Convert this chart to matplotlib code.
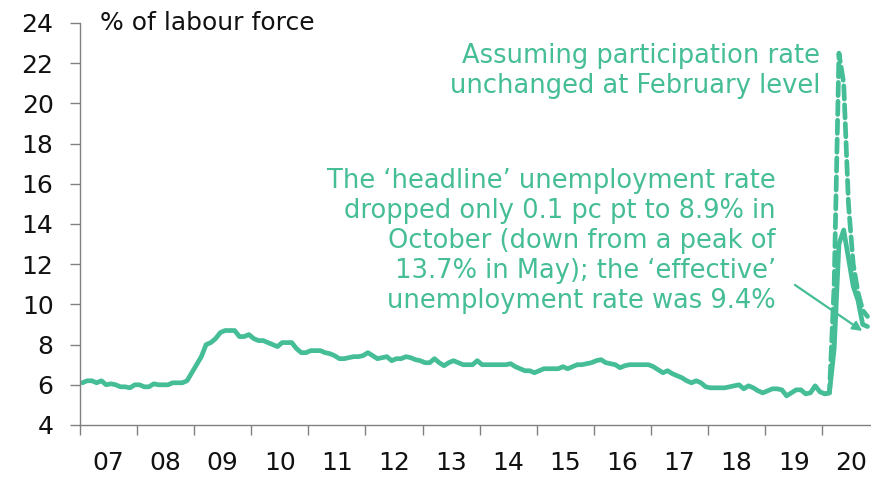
import numpy as np
import matplotlib.pyplot as plt

GREEN = '#45bd97'
GREY = '#808080'

# Headline unemployment rate, monthly, Jan 2007 - Oct 2020 (% of labour force)
rate_2007 = [6.1, 6.2, 6.2, 6.1, 6.2, 6.0, 6.05, 6.0, 5.9, 5.9, 5.85, 6.0]
rate_2008 = [6.0, 5.9, 5.9, 6.05, 6.0, 6.0, 6.0, 6.1, 6.1, 6.1, 6.2, 6.6]
rate_2009 = [7.0, 7.4, 8.0, 8.1, 8.3, 8.6, 8.7, 8.7, 8.7, 8.4, 8.4, 8.5]
rate_2010 = [8.3, 8.2, 8.2, 8.1, 8.0, 7.9, 8.1, 8.1, 8.1, 7.8, 7.6, 7.6]
rate_2011 = [7.7, 7.7, 7.7, 7.6, 7.55, 7.45, 7.3, 7.3, 7.35, 7.4, 7.4, 7.45]
rate_2012 = [7.6, 7.45, 7.3, 7.35, 7.4, 7.2, 7.3, 7.3, 7.4, 7.35, 7.25, 7.2]
rate_2013 = [7.1, 7.1, 7.3, 7.1, 6.95, 7.1, 7.2, 7.1, 7.0, 7.0, 7.0, 7.2]
rate_2014 = [7.0, 7.0, 7.0, 7.0, 7.0, 7.0, 7.05, 6.9, 6.8, 6.7, 6.7, 6.6]
rate_2015 = [6.7, 6.8, 6.8, 6.8, 6.8, 6.9, 6.8, 6.9, 7.0, 7.0, 7.05, 7.1]
rate_2016 = [7.2, 7.25, 7.1, 7.05, 7.0, 6.85, 6.95, 7.0, 7.0, 7.0, 7.0, 7.0]
rate_2017 = [6.9, 6.75, 6.6, 6.7, 6.55, 6.45, 6.35, 6.2, 6.1, 6.2, 6.1, 5.9]
rate_2018 = [5.85, 5.85, 5.85, 5.85, 5.9, 5.95, 6.0, 5.8, 5.95, 5.85, 5.7, 5.6]
rate_2019 = [5.7, 5.8, 5.8, 5.75, 5.45, 5.6, 5.75, 5.75, 5.55, 5.6, 5.95, 5.65]
rate_2020 = [5.55, 5.6, 7.8, 13.0, 13.7, 12.3, 10.9, 10.2, 9.0, 8.9]

# 'Effective' rate with participation held at its February 2020 level
effective_2020 = [5.55, 5.6, 11.0, 22.5, 21.0, 15.0, 12.0, 10.6, 9.7, 9.4]

years = list(range(2007, 2021))
year_labels = ['07', '08', '09', '10', '11', '12', '13', '14', '15', '16',
               '17', '18', '19', '20']
y_ticks = list(range(4, 25, 2))

headline = np.array(rate_2007 + rate_2008 + rate_2009 + rate_2010 + rate_2011
                    + rate_2012 + rate_2013 + rate_2014 + rate_2015 + rate_2016
                    + rate_2017 + rate_2018 + rate_2019 + rate_2020)
months = 2007 + (np.arange(len(headline)) + 0.5) / 12
months_2020 = 2020 + (np.arange(len(effective_2020)) + 0.5) / 12

fig = plt.figure(figsize=(8.71, 4.78), dpi=100)
ax = fig.add_axes([80 / 871, 53 / 478, 791 / 871, 402 / 478])

ax.plot(months_2020, effective_2020, color=GREEN, lw=3.4, ls=(0, (2.8, 1.2)),
        solid_capstyle='round', dash_capstyle='round', clip_on=False)
ax.plot(months, headline, color=GREEN, lw=3.4, solid_joinstyle='round',
        solid_capstyle='round', clip_on=False)

ax.set_xlim(2007, 2020.853)
ax.set_ylim(4, 24)

for side in ['top', 'right']:
    ax.spines[side].set_visible(False)
for side in ['left', 'bottom']:
    ax.spines[side].set_color(GREY)
    ax.spines[side].set_linewidth(1.0)

ax.set_xticks(years)
ax.set_xticklabels([])
ax.set_xticks([y + 0.5 for y in years], minor=True)
ax.set_xticklabels(year_labels, minor=True)
ax.tick_params(axis='x', which='major', length=7, width=1, color=GREY)
ax.tick_params(axis='x', which='minor', length=0, pad=19, labelsize=18,
               labelcolor='#111111')

ax.set_yticks(y_ticks)
ax.tick_params(axis='y', length=7, width=1, color=GREY, pad=12,
               labelsize=18, labelcolor='#111111')

ax.text(0.0253, 1.0, '% of labour force', transform=ax.transAxes,
        ha='left', va='center', fontsize=18, color='#111111')

ax.text(2019.96, 21.6, 'Assuming participation rate\nunchanged at February level',
        ha='right', va='center', fontsize=18.5, color=GREEN, linespacing=1.2)

ax.text(2019.19, 13.15,
        'The \u2018headline\u2019 unemployment rate\n'
        'dropped only 0.1 pc pt to 8.9% in\n'
        'October (down from a peak of\n'
        '13.7% in May); the \u2018effective\u2019\n'
        'unemployment rate was 9.4%',
        ha='right', va='center', fontsize=18.5, color=GREEN, linespacing=1.2)

ax.annotate('', xy=(2020.70, 8.68), xytext=(2019.52, 10.97),
            arrowprops=dict(arrowstyle='-|>', color=GREEN, lw=1.6,
                            mutation_scale=14, shrinkA=0, shrinkB=0))

fig.savefig('out.png', dpi=100)
